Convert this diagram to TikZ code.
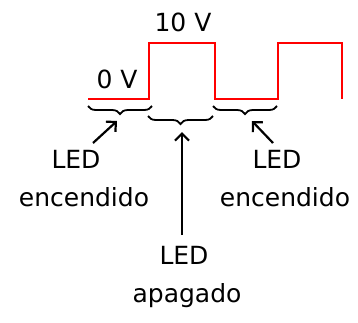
\documentclass[tikz,border=0pt]{standalone}
\usepackage{fontspec}
\setmainfont{DejaVu Sans}
\usetikzlibrary{arrows.meta,decorations.pathreplacing}
\begin{document}
\begin{tikzpicture}[x=1pt,y=-1pt,
  lbl/.style={font=\fontsize{25}{26}\selectfont, inner sep=0pt, anchor=center},
  wave/.style={red, line width=2.6pt, line join=miter},
  brc/.style={decorate, decoration={brace,mirror,amplitude=8pt}, line width=1.8pt},
  ptr/.style={line width=2.2pt, -{Straight Barb[length=7pt,width=14pt]}}]
\useasboundingbox (0,0) rectangle (358,322);
% waveform
\draw[wave] (88,99) -- (149,99) -- (149,43) -- (215,43) -- (215,99) -- (278,99) -- (278,43) -- (342,43) -- (342,99);
% voltage labels
\node[lbl] (v10) at (183,22) {10 V};
\node[lbl] (v0) at (117,79) {0 V};
% braces
\draw[brc] (88,106) -- (152,106);
\draw[brc] (148,116) -- (213,116);
\draw[brc] (213,106) -- (277,106);
\coordinate (tipA) at (117,121);
\coordinate (tipB) at (182,132);
\coordinate (tipC) at (252,121);
% labels
\node[lbl] (ledL) at (76,159) {LED};
\node[lbl] (encL) at (84,197) {encendido};
\node[lbl] (ledR) at (277,159) {LED};
\node[lbl] (encR) at (285,197) {encendido};
\node[lbl] (ledM) at (184,255) {LED};
\node[lbl] (apa) at (187,296) {apagado};
% arrows
\coordinate (tailA) at (93,143);
\coordinate (tailB) at (182,235);
\coordinate (tailC) at (273,143);
\draw[ptr] (tailA) -- (tipA);
\draw[ptr] (tailB) -- (tipB);
\draw[ptr] (tailC) -- (tipC);
\end{tikzpicture}
\end{document}
